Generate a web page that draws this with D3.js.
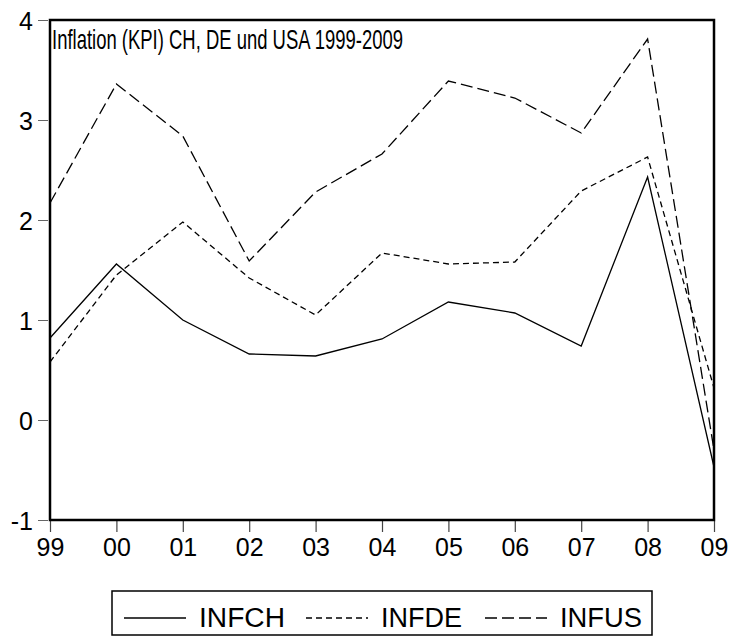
<!DOCTYPE html>
<html>
<head>
<meta charset="utf-8">
<script src="https://cdn.jsdelivr.net/npm/d3@7"></script>
<style>
  html, body { margin: 0; padding: 0; background: #fff; }
  svg { display: block; font-family: "Liberation Sans", Arial, sans-serif; }
</style>
</head>
<body>
<svg id="chart" width="734" height="636"></svg>
<script>
const years = ["99","00","01","02","03","04","05","06","07","08","09"];
const infch = [0.82, 1.56, 1.00, 0.66, 0.64, 0.81, 1.18, 1.07, 0.74, 2.43, -0.47];
const infde = [0.58, 1.45, 1.98, 1.42, 1.05, 1.67, 1.56, 1.58, 2.29, 2.63, 0.32];
const infus = [2.17, 3.36, 2.84, 1.59, 2.28, 2.66, 3.39, 3.22, 2.87, 3.81, -0.30];
const yTicks = [-1, 0, 1, 2, 3, 4];
const seriesNames = ["INFCH", "INFDE", "INFUS"];
const titleText = "Inflation (KPI) CH, DE und USA 1999-2009";

(function () {
const svg = d3.select("#chart");
const pLeft = 50, pRight = 714, pTop = 20, pBottom = 520;

const x = d3.scalePoint().domain(years).range([pLeft, pRight]);
const y = d3.scaleLinear().domain([-1, 4]).range([pBottom, pTop]);

const dashes = ["none", "6,4", "12,5"];
const seriesData = [infch, infde, infus];

// Lines
const line = d3.line().x((d, i) => x(years[i])).y(d => y(d));
seriesData.forEach((vals, k) => {
  svg.append("path")
    .datum(vals)
    .attr("d", line)
    .attr("fill", "none")
    .attr("stroke", "#000")
    .attr("stroke-width", 1.3)
    .attr("stroke-dasharray", dashes[k]);
});

// Y axis
const yAxis = d3.axisLeft(y).tickValues(yTicks).tickSize(10).tickSizeOuter(0).tickPadding(5).tickFormat(d => String(d));
const gy = svg.append("g").attr("transform", `translate(${pLeft - 2},0)`).call(yAxis);
gy.select(".domain").remove();
gy.selectAll(".tick line").attr("stroke", "#666").attr("stroke-width", 1);
gy.selectAll(".tick text").attr("font-size", 25).attr("fill", "#000")
  .attr("font-family", "Liberation Sans, Arial, sans-serif").attr("dy", "0.36em");

// X axis
const xAxis = d3.axisBottom(x).tickSize(11).tickSizeOuter(0).tickPadding(6);
const gx = svg.append("g").attr("transform", `translate(0,${pBottom + 1})`).call(xAxis);
gx.select(".domain").remove();
gx.selectAll(".tick line").attr("stroke", "#444").attr("stroke-width", 1.2);
gx.selectAll(".tick text").attr("font-size", 25).attr("fill", "#000")
  .attr("font-family", "Liberation Sans, Arial, sans-serif").attr("dy", "0.72em");

// Frame
svg.append("rect")
  .attr("x", pLeft).attr("y", pTop)
  .attr("width", pRight - pLeft).attr("height", pBottom - pTop)
  .attr("fill", "none").attr("stroke", "#000").attr("stroke-width", 2.5);

// Title
svg.append("text")
  .attr("x", 52).attr("y", 49)
  .attr("font-size", 28)
  .attr("textLength", 351)
  .attr("lengthAdjust", "spacingAndGlyphs")
  .text(titleText);

// Legend
const lg = svg.append("g");
lg.append("rect").attr("x", 112).attr("y", 591).attr("width", 540).attr("height", 44)
  .attr("fill", "none").attr("stroke", "#000").attr("stroke-width", 1.5);
const legX = [124, 306, 485];
const textLen = [86, 81, 82];
seriesNames.forEach((name, k) => {
  lg.append("line")
    .attr("x1", legX[k]).attr("x2", legX[k] + 62)
    .attr("y1", 618).attr("y2", 618)
    .attr("stroke", "#000").attr("stroke-width", 1.3)
    .attr("stroke-dasharray", dashes[k]);
  lg.append("text")
    .attr("x", legX[k] + 75).attr("y", 627)
    .attr("font-size", 27)
    .attr("textLength", textLen[k])
    .attr("lengthAdjust", "spacingAndGlyphs")
    .text(name);
});
})();
</script>
</body>
</html>
